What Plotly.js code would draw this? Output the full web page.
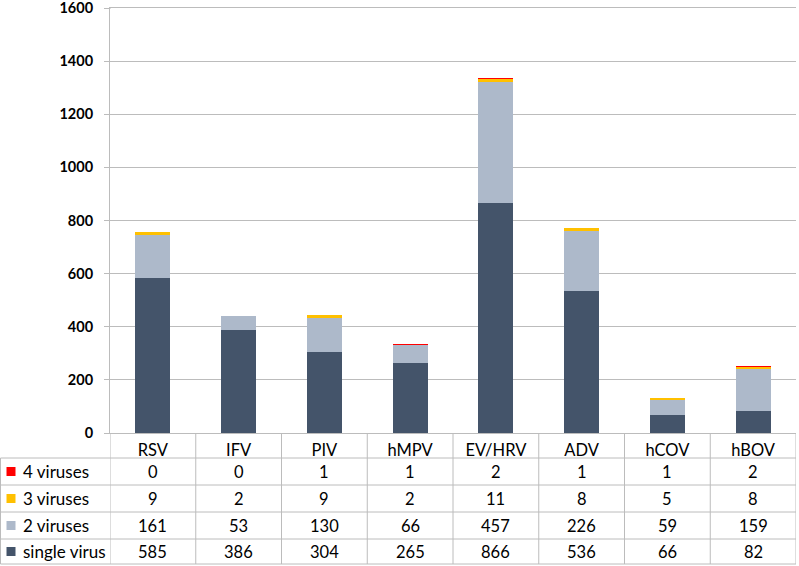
<!DOCTYPE html>
<html>
<head>
<meta charset="utf-8">
<script src="https://cdn.plot.ly/plotly-3.0.1.min.js"></script>
<style>html,body{margin:0;padding:0;background:#fff;}#chart{width:799px;height:566px;}</style>
</head>
<body>
<div id="chart"></div>
<script>
const categories = ["RSV", "IFV", "PIV", "hMPV", "EV/HRV", "ADV", "hCOV", "hBOV"];
const singleVirus = [585, 386, 304, 265, 866, 536, 66, 82];
const twoViruses = [161, 53, 130, 66, 457, 226, 59, 159];
const threeViruses = [9, 2, 9, 2, 11, 8, 5, 8];
const fourViruses = [0, 0, 1, 1, 2, 1, 1, 2];
const seriesNames = ["single virus", "2 viruses", "3 viruses", "4 viruses"];
const yTicks = [0, 200, 400, 600, 800, 1000, 1200, 1400, 1600];

const colors = ["#44546A", "#ADB9CA", "#FFC000", "#FF0000"];
const seriesData = [singleVirus, twoViruses, threeViruses, fourViruses];
const FONT = "Lato, 'Open Sans', sans-serif";
const gridCol = "#BCBCBC";

const W = 799, H = 566, mL = 110, mR = 3, mT = 8, mB = 133;
const yMax = 1600;
const plotW = W - mL - mR, plotH = H - mT - mB;
const px2x = p => (p - mL) / plotW;
const py2y = p => (H - mB - p) / plotH;

const traces = seriesData.map((vals, i) => ({
  type: "bar",
  name: seriesNames[i],
  x: categories,
  y: vals,
  marker: {color: colors[i]},
  hoverinfo: "x+y+name"
}));

const rowEdges = [458, 485, 512, 539, 564];
const rowCenters = [471.5, 498.5, 525.5, 551.5];
const tableOrder = [3, 2, 1, 0];

const shapes = [];
const annotations = [];
// tick stub at the top gridline (the line itself comes from the mirrored x axis line)
shapes.push({type: "line", xref: "paper", yref: "paper", x0: px2x(105), x1: px2x(110.5), y0: py2y(8.5), y1: py2y(8.5), line: {color: gridCol, width: 1}});
rowEdges.forEach(p => {
  shapes.push({type: "line", xref: "paper", yref: "paper", x0: px2x(0.5), x1: 1, y0: py2y(p), y1: py2y(p), line: {color: gridCol, width: 1}});
});
for (let i = 0; i <= categories.length; i++) {
  shapes.push({type: "line", xref: "x", yref: "paper", x0: i - 0.5, x1: i - 0.5, y0: 0, y1: py2y(564), line: {color: gridCol, width: 1}});
}
shapes.push({type: "line", xref: "paper", yref: "paper", x0: px2x(0.5), x1: px2x(0.5), y0: py2y(458), y1: py2y(564), line: {color: gridCol, width: 1}});

tableOrder.forEach((si, r) => {
  const yc = py2y(rowCenters[r]);
  shapes.push({type: "rect", xref: "paper", yref: "paper", x0: px2x(6.5), x1: px2x(15.5), y0: py2y(rowCenters[r] + 4.5), y1: py2y(rowCenters[r] - 4.5), fillcolor: colors[si], line: {width: 0}});
  annotations.push({xref: "paper", yref: "paper", x: px2x(21), y: yc, text: seriesNames[si], showarrow: false, xanchor: "left", yanchor: "middle", font: {family: FONT, size: 17, color: "#000"}});
  seriesData[si].forEach((v, ci) => {
    annotations.push({xref: "x", yref: "paper", x: categories[ci], y: yc, text: String(v), showarrow: false, xanchor: "center", yanchor: "middle", font: {family: FONT, size: 16.5, color: "#000"}});
  });
});

const layout = {
  width: W, height: H,
  margin: {l: mL, r: mR, t: mT, b: mB, pad: 0},
  paper_bgcolor: "#fff", plot_bgcolor: "#fff",
  barmode: "stack",
  bargap: 0.59,
  showlegend: false,
  font: {family: FONT, color: "#000"},
  xaxis: {
    type: "category",
    categoryorder: "array", categoryarray: categories,
    range: [-0.5, categories.length - 0.5],
    showline: true, linecolor: gridCol, linewidth: 1, mirror: true,
    showgrid: false, zeroline: false,
    ticks: "", ticklabelstandoff: 2,
    tickfont: {family: FONT, size: 16.5, color: "#000"}
  },
  yaxis: {
    range: [0, yMax],
    tickvals: yTicks,
    ticktext: yTicks.map(String),
    showline: true, linecolor: gridCol, linewidth: 1,
    showgrid: true, gridcolor: gridCol, gridwidth: 1,
    zeroline: false,
    ticks: "outside", ticklen: 5, tickcolor: gridCol,
    ticklabelstandoff: 8,
    ticklabeloverflow: "allow",
    tickfont: {family: FONT, size: 14.5, color: "#000", weight: "bold"}
  },
  shapes: shapes,
  annotations: annotations
};

Plotly.newPlot("chart", traces, layout, {displayModeBar: false, staticPlot: true});
</script>
</body>
</html>
